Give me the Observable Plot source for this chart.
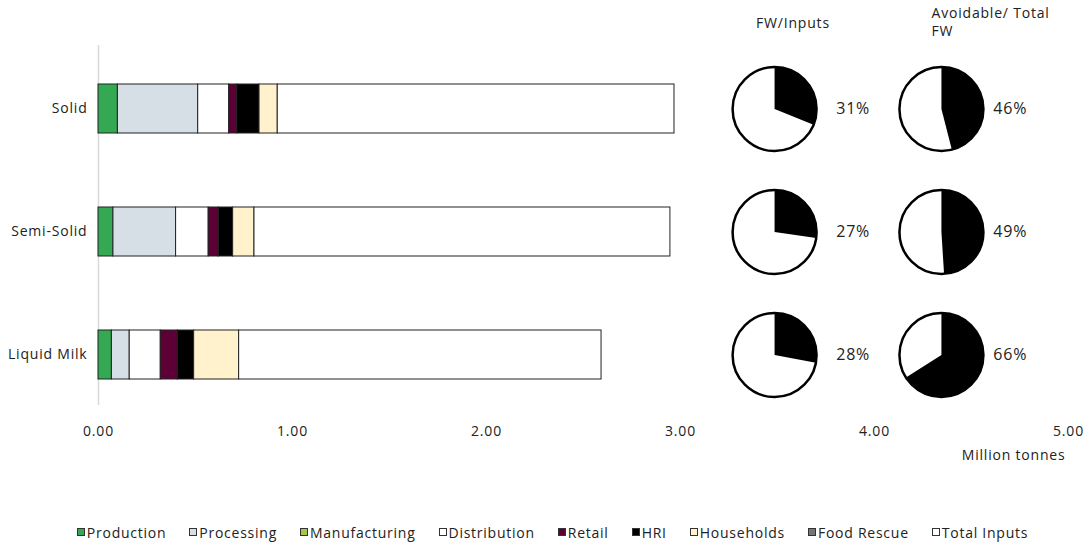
<!DOCTYPE html>
<html><head><meta charset="utf-8">
<script src="https://cdn.jsdelivr.net/npm/d3@7"></script>
<script src="https://cdn.jsdelivr.net/npm/@observablehq/plot@0.6"></script>
<style>
body{margin:0;background:#fff;font-family:"Open Sans",sans-serif;color:#222;}
#legend{display:flex;justify-content:center;align-items:center;gap:23px;height:24px;padding-top:5px;font-size:14px;letter-spacing:0.75px;padding-left:16px;}
#legend .item{display:flex;align-items:center;}
#legend .sw{width:8px;height:8px;border:1px solid #333;margin-right:2px;box-sizing:border-box;}
svg text{letter-spacing:0.8px;}
</style></head><body><div id="chart"></div><div id="legend"></div><script>
const categories = ["Solid", "Semi-Solid", "Liquid Milk"];
const stages = ["Production","Processing","Manufacturing","Distribution","Retail","HRI","Households","Food Rescue","Total Inputs"];
const stageColors = ["#34a853","#d6dee6","#a9c54a","#ffffff","#5c0036","#000000","#fff2cc","#767676","#ffffff"];
const production    = [0.100, 0.077, 0.069];
const processing    = [0.414, 0.323, 0.092];
const manufacturing = [0, 0, 0];
const distribution  = [0.160, 0.168, 0.160];
const retail        = [0.041, 0.052, 0.088];
const hri           = [0.115, 0.074, 0.084];
const households    = [0.094, 0.110, 0.232];
const foodRescue    = [0, 0, 0];
const totalInputs   = [2.969, 2.948, 2.593];
const avoidableShare = [0.46, 0.49, 0.66];
const xTicks = [0, 1, 2, 3, 4, 5];

const wasteSeries = [production, processing, manufacturing, distribution, retail, hri, households, foodRescue];
const table = [];
categories.forEach((c, i) => {
  let fw = 0;
  wasteSeries.forEach((s, k) => { table.push({cat: c, stage: stages[k], value: s[i]}); fw += s[i]; });
  table.push({cat: c, stage: "Total Inputs", value: totalInputs[i] - fw});
});
const rows = categories.map((c, i) => {
  const fw = wasteSeries.reduce((a, s) => a + s[i], 0);
  return {cat: c, fwShare: fw / totalInputs[i], avoidable: avoidableShare[i]};
});

function wedge(frac) {
  return {draw(ctx, size) {
    const R = Math.sqrt(size / Math.PI);
    const a0 = -Math.PI / 2, a1 = a0 + 2 * Math.PI * frac;
    ctx.moveTo(0, 0);
    ctx.lineTo(R * Math.cos(a0), R * Math.sin(a0));
    ctx.arc(0, 0, R, a0, a1);
    ctx.closePath();
  }};
}

const pieX1 = 3.485, pieX2 = 4.345, pieR = 42;
const pieMarks = [];
rows.forEach(r => {
  [[pieX1, r.fwShare], [pieX2, r.avoidable]].forEach(([px, f]) => {
    pieMarks.push(Plot.dot([r], {x: () => px, y: "cat", r: pieR, fill: "white", stroke: "none"}));
    pieMarks.push(Plot.dot([r], {x: () => px, y: "cat", r: pieR, symbol: wedge(f), fill: "black", stroke: "none"}));
    pieMarks.push(Plot.dot([r], {x: () => px, y: "cat", r: pieR, fill: "none", stroke: "black", strokeWidth: 2.5}));
  });
});

const chart = Plot.plot({
  width: 1089, height: 515,
  marginLeft: 98, marginRight: 21, marginTop: 45, marginBottom: 110,
  style: {fontFamily: "Open Sans, sans-serif", fontSize: "14px", color: "#222"},
  x: {domain: [0, 5], ticks: xTicks, tickFormat: d3.format(".2f")},
  y: {domain: categories, range: [21.25, 440.75], paddingInner: 0.603, paddingOuter: 0.5},
  color: {domain: stages, range: stageColors},
  marks: [
    Plot.ruleX([0], {stroke: "#d9d9d9", strokeWidth: 1.5}),
    Plot.barX(table.filter(d => d.value > 0), Plot.stackX({x: "value", y: "cat", fill: "stage", stroke: "#222", strokeWidth: 1, order: stages})),
    Plot.axisX({ticks: xTicks, tickSize: 0, tickPadding: 21, tickFormat: d3.format(".2f"), label: null, fontSize: 14}),
    Plot.axisY({tickSize: 0, tickPadding: 11, label: null, fontSize: 14}),
    Plot.text(["Million tonnes"], {frameAnchor: "bottom-right", dy: 54, dx: -3, textAnchor: "end", fontSize: 14}),
    ...pieMarks,
    Plot.text(rows, {x: () => 3.89, y: "cat", text: d => d3.format(".0%")(d.fwShare), fontSize: 16}),
    Plot.text(rows, {x: () => 4.70, y: "cat", text: d => d3.format(".0%")(d.avoidable), fontSize: 16}),
    Plot.text(["FW/Inputs"], {x: () => 3.77, frameAnchor: "top", dy: -27, textAnchor: "end", fontSize: 14}),
    Plot.text(["Avoidable/ Total\nFW"], {x: () => 4.294, frameAnchor: "top", dy: -41, textAnchor: "start", lineAnchor: "top", fontSize: 14, lineHeight: 1.32})
  ]
});
document.getElementById("chart").appendChild(chart);

const legend = document.getElementById("legend");
stages.forEach((s, k) => {
  const it = document.createElement("div"); it.className = "item";
  const sw = document.createElement("span"); sw.className = "sw"; sw.style.background = stageColors[k];
  const t = document.createElement("span"); t.textContent = s;
  it.appendChild(sw); it.appendChild(t); legend.appendChild(it);
});
</script></body></html>
